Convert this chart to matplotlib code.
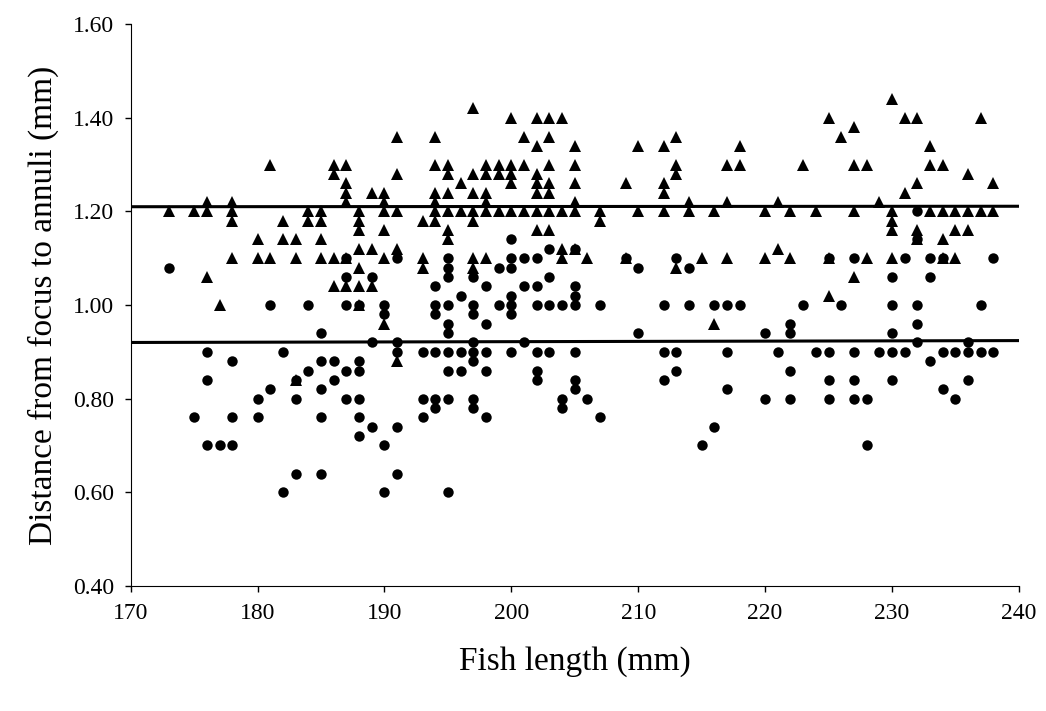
import matplotlib.pyplot as plt
from matplotlib.ticker import FormatStrFormatter

plt.rcParams['font.family'] = ['Liberation Serif', 'DejaVu Serif']

# distance to the second annulus (triangles), grouped by fish length (mm)
annulus2 = {
    173: [1.20], 175: [1.20], 176: [1.22, 1.20, 1.06], 177: [1.00],
    178: [1.22, 1.20, 1.18, 1.10], 180: [1.14, 1.10], 181: [1.30, 1.10],
    182: [1.18, 1.14], 183: [1.14, 1.10, 0.84], 184: [1.20, 1.18],
    185: [1.20, 1.18, 1.14, 1.10], 186: [1.30, 1.28, 1.10, 1.04],
    187: [1.30, 1.26, 1.24, 1.22, 1.10, 1.04],
    188: [1.20, 1.18, 1.16, 1.12, 1.08, 1.04, 1.00],
    189: [1.24, 1.12, 1.04], 190: [1.24, 1.22, 1.20, 1.16, 1.10, 0.96],
    191: [1.36, 1.28, 1.20, 1.12, 0.88], 193: [1.18, 1.10, 1.08],
    194: [1.36, 1.30, 1.24, 1.22, 1.20, 1.18],
    195: [1.30, 1.28, 1.24, 1.20, 1.16, 1.14], 196: [1.26, 1.20],
    197: [1.42, 1.28, 1.24, 1.20, 1.18, 1.10, 1.08],
    198: [1.30, 1.28, 1.24, 1.22, 1.20, 1.10], 199: [1.30, 1.28, 1.20],
    200: [1.40, 1.30, 1.28, 1.26, 1.20], 201: [1.36, 1.30, 1.20],
    202: [1.40, 1.34, 1.28, 1.26, 1.24, 1.20, 1.16],
    203: [1.40, 1.36, 1.30, 1.26, 1.24, 1.20, 1.16],
    204: [1.40, 1.20, 1.12, 1.10], 205: [1.34, 1.30, 1.26, 1.22, 1.20, 1.12],
    206: [1.10], 207: [1.20, 1.18], 209: [1.26, 1.10], 210: [1.34, 1.20],
    212: [1.34, 1.26, 1.24, 1.20], 213: [1.36, 1.30, 1.28, 1.08],
    214: [1.22, 1.20], 215: [1.10], 216: [1.20, 0.96], 217: [1.30, 1.22, 1.10],
    218: [1.34, 1.30], 220: [1.20, 1.10], 221: [1.22, 1.12], 222: [1.20, 1.10],
    223: [1.30], 224: [1.20], 225: [1.40, 1.10, 1.02], 226: [1.36],
    227: [1.38, 1.30, 1.20, 1.06], 228: [1.30, 1.10], 229: [1.22],
    230: [1.44, 1.20, 1.18, 1.16, 1.10], 231: [1.40, 1.24],
    232: [1.40, 1.26, 1.16, 1.14], 233: [1.34, 1.30, 1.20],
    234: [1.30, 1.20, 1.14, 1.10], 235: [1.20, 1.16, 1.10],
    236: [1.28, 1.20, 1.16], 237: [1.40, 1.20], 238: [1.26, 1.20],
}

# distance to the first annulus (circles), grouped by fish length (mm)
annulus1 = {
    173: [1.08], 175: [0.76], 176: [0.90, 0.84, 0.70], 177: [0.70],
    178: [0.88, 0.76, 0.70], 180: [0.80, 0.76], 181: [1.00, 0.82],
    182: [0.90, 0.60], 183: [0.84, 0.80, 0.64], 184: [1.00, 0.86],
    185: [0.94, 0.88, 0.82, 0.76, 0.64], 186: [0.88, 0.84],
    187: [1.10, 1.06, 1.00, 0.86, 0.80],
    188: [1.00, 0.88, 0.86, 0.80, 0.76, 0.72], 189: [1.06, 0.92, 0.74],
    190: [1.00, 0.98, 0.70, 0.60], 191: [1.10, 0.92, 0.90, 0.74, 0.64],
    193: [0.90, 0.80, 0.76], 194: [1.04, 1.00, 0.98, 0.90, 0.80, 0.78],
    195: [1.10, 1.08, 1.06, 1.00, 0.96, 0.94, 0.90, 0.86, 0.80, 0.60],
    196: [1.02, 0.90, 0.86],
    197: [1.06, 1.00, 0.98, 0.92, 0.90, 0.88, 0.80, 0.78],
    198: [1.04, 0.96, 0.90, 0.86, 0.76], 199: [1.08, 1.00],
    200: [1.14, 1.10, 1.08, 1.02, 1.00, 0.98, 0.90], 201: [1.10, 1.04, 0.92],
    202: [1.10, 1.04, 1.00, 0.90, 0.86, 0.84], 203: [1.12, 1.06, 1.00, 0.90],
    204: [1.00, 0.80, 0.78], 205: [1.12, 1.04, 1.02, 1.00, 0.90, 0.84, 0.82],
    206: [0.80], 207: [1.00, 0.76], 209: [1.10], 210: [1.08, 0.94],
    212: [1.00, 0.90, 0.84], 213: [1.10, 0.90, 0.86], 214: [1.08, 1.00],
    215: [0.70], 216: [1.00, 0.74], 217: [1.00, 0.90, 0.82], 218: [1.00],
    220: [0.94, 0.80], 221: [0.90], 222: [0.96, 0.94, 0.86, 0.80],
    223: [1.00], 224: [0.90], 225: [1.10, 0.90, 0.84, 0.80], 226: [1.00],
    227: [1.10, 0.90, 0.84, 0.80], 228: [0.80, 0.70], 229: [0.90],
    230: [1.06, 1.00, 0.94, 0.90, 0.84], 231: [1.10, 0.90],
    232: [1.20, 1.14, 1.00, 0.96, 0.92], 233: [1.10, 1.06, 0.88],
    234: [1.10, 0.90, 0.82], 235: [0.90, 0.80], 236: [0.92, 0.90, 0.84],
    237: [1.00, 0.90], 238: [1.10, 0.90],
}

# fitted lines across the plotted length range
fit_length = [170, 240]
fit_annulus2 = [1.210, 1.211]
fit_annulus1 = [0.920, 0.924]

x2 = [k for k, v in annulus2.items() for _ in v]
y2 = [d for v in annulus2.values() for d in v]
x1 = [k for k, v in annulus1.items() for _ in v]
y1 = [d for v in annulus1.values() for d in v]

fig = plt.figure(figsize=(10.46, 7.11), dpi=100)
ax = fig.add_axes([0.125, 0.176, 0.849, 0.790])

ax.plot(x2, y2, linestyle='none', marker='^', ms=8.5, color='black', mew=0)
ax.plot(x1, y1, linestyle='none', marker='o', ms=7.5, color='black', mew=0)
ax.plot(fit_length, fit_annulus2, color='black', lw=2.2)
ax.plot(fit_length, fit_annulus1, color='black', lw=2.2)

ax.set_xlim(170, 240)
ax.set_ylim(0.4, 1.6)
ax.set_xticks(range(170, 241, 10))
ax.set_yticks([0.4, 0.6, 0.8, 1.0, 1.2, 1.4, 1.6])
ax.yaxis.set_major_formatter(FormatStrFormatter('%.2f'))
ax.spines['top'].set_visible(False)
ax.spines['right'].set_visible(False)
ax.tick_params(direction='out', length=4, width=1, labelsize=17, pad=8)

ax.set_xlabel("Fish length (mm)", fontsize=24, labelpad=16)
ax.set_ylabel("Distance from focus to annuli (mm)", fontsize=24, labelpad=10)

plt.savefig("out.png", dpi=100)
plt.close()
